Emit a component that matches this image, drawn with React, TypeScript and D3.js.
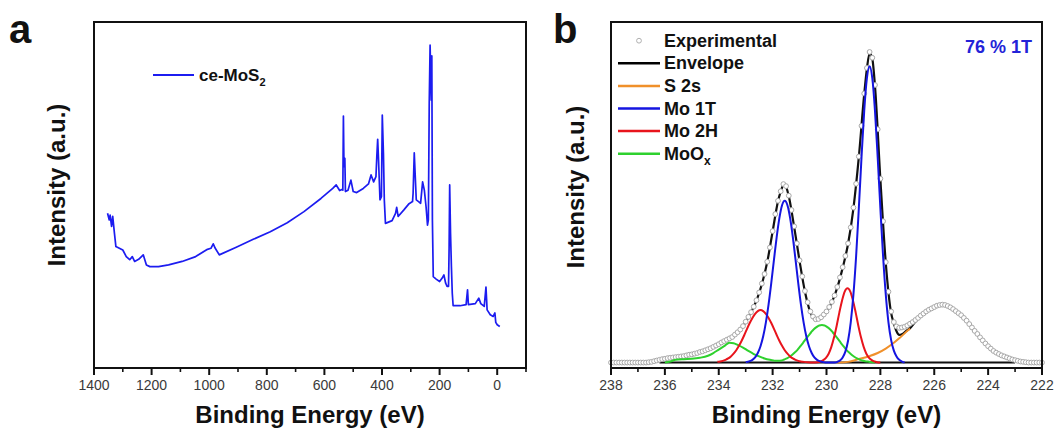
import React from "react";
import * as d3 from "d3";

const W = 1057;
const H = 430;
const FONT = "Arial, 'Liberation Sans', Helvetica, sans-serif";

// ---- panel a : survey spectrum ----
const surveyEnergy = [
  1353, 1347, 1344, 1339, 1335, 1329, 1324, 1312, 1300, 1288, 1276, 1267, 1259, 1245, 1229, 1218, 1206, 1176,
  1141, 1094, 1047, 1006, 994, 986, 979, 965, 906, 847, 788, 729, 671, 612, 571, 559, 547, 539, 536, 534, 532,
  529, 527, 518, 508, 500, 488, 465, 447, 438, 429, 421, 418, 415, 412, 407, 402, 399, 395, 392, 388, 365, 353,
  349, 344, 324, 306, 294, 292, 288, 285, 281, 273, 266, 259, 253, 247, 242, 239, 236, 233, 229, 227, 225, 222,
  212, 200, 191, 185, 179, 174, 169, 167, 165, 162, 159, 156, 153, 129, 108, 103, 100, 76, 64, 57, 45, 39, 35,
  24, 14, 8, 5, 0, -9,
];
const surveyIntensity = [
  44.7, 42.8, 44.2, 40.9, 43.8, 38.9, 35.1, 34.6, 34.1, 32.2, 31.3, 32.2, 30.8, 31.4, 32.7, 29.8, 29.3, 29.3,
  29.8, 30.8, 32.2, 34.3, 34.6, 35.9, 34.6, 32.7, 34.9, 37.2, 39.4, 42.0, 45.2, 49.0, 51.9, 52.9, 51.3, 51.6,
  51.4, 72.8, 58.2, 60.6, 51.0, 51.4, 54.3, 51.0, 50.7, 51.9, 53.2, 55.8, 53.8, 55.3, 61.1, 66.1, 60.1, 48.6,
  49.5, 73.1, 62.0, 48.6, 41.8, 42.6, 44.7, 46.4, 43.8, 45.7, 47.5, 48.1, 50.5, 62.2, 56.3, 48.6, 48.1, 47.6,
  53.8, 51.4, 46.6, 41.3, 42.8, 76.4, 93.3, 77.4, 90.2, 42.8, 26.4, 25.7, 25.0, 26.0, 26.9, 24.5, 23.6, 23.6,
  34.6, 52.9, 38.9, 29.3, 21.6, 18.0, 18.0, 18.3, 22.6, 18.3, 18.6, 20.2, 18.6, 17.8, 23.4, 16.8, 15.4, 14.9,
  15.9, 13.2, 12.5, 12.0,
];
const surveyMajor = [1400, 1200, 1000, 800, 600, 400, 200, 0];
const surveyMinor = [1300, 1100, 900, 700, 500, 300, 100, -100];

// ---- panel b : Mo 3d region ----
const experimental: [number, number][] = [
  [238.0, 0], [237.9, 0], [237.8, 0], [237.7, 0], [237.6, 0], [237.5, 0], [237.4, 0], [237.3, 0], [237.2, 0],
  [237.1, 0], [237.0, 0], [236.9, 0], [236.8, 0], [236.7, 0], [236.6, 0.1], [236.5, 0.2], [236.4, 0.4],
  [236.3, 0.6], [236.2, 0.8], [236.1, 1.0], [236.0, 1.1], [235.9, 1.3], [235.8, 1.4], [235.7, 1.5], [235.6, 1.6],
  [235.5, 1.7], [235.4, 1.8], [235.3, 1.9], [235.2, 2.1], [235.1, 2.3], [235.0, 2.4], [234.9, 2.6], [234.8, 2.8],
  [234.7, 3.1], [234.6, 3.3], [234.5, 3.6], [234.4, 3.9], [234.3, 4.2], [234.2, 4.6], [234.1, 5.0], [234.0, 5.4],
  [233.9, 5.9], [233.8, 6.3], [233.7, 6.7], [233.6, 7.1], [233.5, 7.5], [233.4, 8.2], [233.3, 8.9], [233.2, 9.7],
  [233.1, 10.7], [233.0, 12.0], [232.9, 13.4], [232.8, 14.8], [232.7, 16.4], [232.6, 18.3], [232.5, 20.6],
  [232.4, 23.2], [232.3, 26.0], [232.2, 29.6], [232.1, 33.8], [232.0, 38.6], [231.9, 43.6], [231.8, 47.5],
  [231.7, 50.3], [231.6, 52.4], [231.5, 51.8], [231.4, 49.0], [231.3, 44.8], [231.2, 40.0], [231.1, 35.0],
  [231.0, 30.0], [230.9, 25.3], [230.8, 21.0], [230.7, 17.7], [230.6, 15.0], [230.5, 13.5], [230.4, 12.7],
  [230.3, 12.8], [230.2, 13.3], [230.1, 14.1], [230.0, 15.0], [229.9, 16.3], [229.8, 17.8], [229.7, 19.7],
  [229.6, 22.2], [229.5, 25.0], [229.4, 28.0], [229.3, 31.3], [229.2, 35.0], [229.1, 39.7], [229.0, 45.5],
  [228.9, 52.5], [228.8, 60.5], [228.7, 69.5], [228.6, 79.0], [228.5, 86.5], [228.4, 91.2], [228.3, 89.5],
  [228.2, 81.5], [228.1, 68.5], [228.0, 54.0], [227.9, 41.5], [227.8, 29.5], [227.7, 20.8], [227.6, 15.0],
  [227.5, 11.9], [227.4, 10.6], [227.3, 10.2], [227.2, 10.3], [227.1, 10.5], [227.0, 10.9], [226.9, 11.4],
  [226.8, 11.9], [226.7, 12.5], [226.6, 13.1], [226.5, 13.8], [226.4, 14.4], [226.3, 15.0], [226.2, 15.5],
  [226.1, 15.9], [226.0, 16.3], [225.9, 16.7], [225.8, 16.9], [225.7, 17.0], [225.6, 16.9], [225.5, 16.6],
  [225.4, 16.2], [225.3, 15.7], [225.2, 15.1], [225.1, 14.5], [225.0, 13.9], [224.9, 13.1], [224.8, 12.3],
  [224.7, 11.3], [224.6, 10.3], [224.5, 9.3], [224.4, 8.4], [224.3, 7.4], [224.2, 6.5], [224.1, 5.6],
  [224.0, 4.8], [223.9, 4.1], [223.8, 3.4], [223.7, 2.9], [223.6, 2.5], [223.5, 2.1], [223.4, 1.8], [223.3, 1.5],
  [223.2, 1.2], [223.1, 0.9], [223.0, 0.7], [222.9, 0.5], [222.8, 0.3], [222.7, 0.2], [222.6, 0.1], [222.5, 0],
  [222.4, 0], [222.3, 0], [222.2, 0], [222.1, 0], [222.0, 0],
];

const background: [number, number][] = [[236.2, 0], [223.0, 0]];

const envelope: [number, number][] = [
  [236.0, 0.9], [235.5, 1.6], [235.0, 2.3], [234.5, 3.5], [234.0, 5.3], [233.6, 7.0], [233.2, 9.6], [232.9, 13.3],
  [232.6, 18.2], [232.4, 23.0], [232.2, 29.5], [232.0, 38.5], [231.8, 47.4], [231.7, 50.2], [231.6, 52.0],
  [231.5, 51.5], [231.4, 48.8], [231.2, 39.8], [231.0, 29.8], [230.8, 20.8], [230.6, 14.8], [230.4, 12.5],
  [230.2, 13.1], [230.0, 14.9], [229.8, 17.7], [229.6, 22.0], [229.4, 27.8], [229.2, 34.8], [229.0, 45.3],
  [228.8, 60.3], [228.6, 78.8], [228.5, 86.3], [228.4, 90.8], [228.3, 89.2], [228.2, 81.2], [228.0, 53.8],
  [227.8, 29.3], [227.6, 14.5], [227.5, 11.5], [227.4, 9.2], [227.3, 8.1], [227.2, 8.3], [227.05, 9.2],
  [226.9, 10.1], [226.7, 12.0], [226.5, 13.6], [226.2, 15.4], [225.9, 16.6], [225.7, 16.9], [225.4, 16.1],
  [225.1, 14.4], [224.8, 12.2], [224.5, 9.2], [224.2, 6.4], [223.9, 4.0], [223.6, 2.4], [223.3, 1.4],
  [223.0, 0.6], [222.8, 0.2],
];

const s2s: [number, number][] = [
  [229.6, 0], [229.2, 0.2], [228.8, 1.0], [228.4, 1.9], [228.1, 2.8], [227.8, 4.1], [227.5, 5.8], [227.3, 7.1],
  [227.15, 8.2], [227.0, 9.3], [226.9, 10.0],
];

const mo1T: [number, number][] = [
  [233.0, 0.1], [232.95, 0.2], [232.85, 0.4], [232.75, 0.8], [232.65, 1.5], [232.55, 2.8], [232.45, 4.8],
  [232.35, 7.7], [232.25, 11.8], [232.15, 17.1], [232.05, 23.4], [231.95, 30.2], [231.85, 36.8], [231.75, 42.4],
  [231.65, 46.2], [231.55, 47.5], [231.45, 46.2], [231.35, 42.4], [231.25, 36.8], [231.15, 30.2], [231.05, 23.4],
  [230.95, 17.1], [230.85, 11.8], [230.75, 7.7], [230.65, 4.8], [230.55, 2.8], [230.45, 1.5], [230.35, 0.8],
  [230.25, 0.4], [230.15, 0.2], [230.05, 0], [229.7, 0], [229.6, 0.2], [229.5, 0.6], [229.4, 1.5], [229.3, 3.2],
  [229.2, 6.4], [229.1, 11.8], [229.0, 20.0], [228.9, 31.3], [228.8, 45.3], [228.7, 60.3], [228.6, 73.9],
  [228.5, 83.5], [228.4, 87.0], [228.3, 83.5], [228.2, 73.9], [228.1, 60.3], [228.0, 45.3], [227.9, 31.3],
  [227.8, 20.0], [227.7, 11.8], [227.6, 6.6], [227.5, 3.5], [227.4, 1.8], [227.3, 0.8], [227.2, 0.3], [227.1, 0],
];

const mo2H: [number, number][] = [
  [234.05, 0.2], [233.95, 0.3], [233.85, 0.5], [233.75, 0.8], [233.65, 1.2], [233.55, 1.8], [233.45, 2.6],
  [233.35, 3.6], [233.25, 4.9], [233.15, 6.4], [233.05, 8.1], [232.95, 9.9], [232.85, 11.6], [232.75, 13.1],
  [232.65, 14.3], [232.55, 15.1], [232.45, 15.4], [232.35, 15.1], [232.25, 14.3], [232.15, 13.1], [232.05, 11.6],
  [231.95, 9.9], [231.85, 8.1], [231.75, 6.4], [231.65, 4.9], [231.55, 3.6], [231.45, 2.6], [231.35, 1.8],
  [231.25, 1.2], [231.15, 0.8], [231.05, 0.5], [230.95, 0.3], [230.85, 0.2], [230.7, 0.1], [230.5, 0.05],
  [230.32, 0.1], [230.22, 0.3], [230.12, 0.7], [230.02, 1.4], [229.92, 2.6], [229.82, 4.6], [229.72, 7.4],
  [229.62, 10.9], [229.52, 14.8], [229.42, 18.3], [229.32, 20.9], [229.22, 21.8], [229.12, 20.9], [229.02, 18.3],
  [228.92, 14.8], [228.82, 10.9], [228.72, 7.4], [228.62, 4.6], [228.52, 2.6], [228.42, 1.4], [228.32, 0.7],
  [228.22, 0.3], [228.12, 0.1], [228.0, 0],
];

const moOx: [number, number][] = [
  [236.0, 0], [235.8, 0.3], [235.6, 0.8], [235.3, 1.0], [235.0, 1.1], [234.7, 1.4], [234.4, 2.0], [234.2, 2.8],
  [234.0, 3.8], [233.8, 4.8], [233.6, 5.8], [233.45, 5.7], [233.3, 5.2], [233.1, 4.4], [232.9, 3.4], [232.7, 2.5],
  [232.5, 1.8], [232.3, 1.2], [232.1, 0.8], [231.97, 0.6], [231.87, 0.5], [231.77, 0.5], [231.67, 0.6],
  [231.57, 0.9], [231.47, 1.2], [231.37, 1.7], [231.27, 2.3], [231.17, 3.0], [231.07, 3.8], [230.97, 4.8],
  [230.87, 5.8], [230.77, 6.9], [230.67, 7.9], [230.57, 8.9], [230.47, 9.8], [230.37, 10.4], [230.27, 10.9],
  [230.17, 11.0], [230.07, 10.9], [229.97, 10.4], [229.87, 9.8], [229.77, 8.9], [229.67, 7.9], [229.57, 6.9],
  [229.47, 5.8], [229.37, 4.8], [229.27, 3.8], [229.17, 3.0], [229.07, 2.3], [228.97, 1.7], [228.87, 1.2],
  [228.77, 0.9], [228.67, 0.6], [228.57, 0.4], [228.47, 0.3], [228.37, 0.15], [228.2, 0],
];

const coreMajor = [238, 236, 234, 232, 230, 228, 226, 224, 222];
const coreMinor = [237, 235, 233, 231, 229, 227, 225, 223];

const legendLabels = ["Experimental", "Envelope", "S 2s", "Mo 1T", "Mo 2H", "MoO"];
const legendColors = ["none", "#000000", "#f0902a", "#1515e0", "#e8141c", "#2ed12e"];

type Scale = d3.ScaleLinear<number, number>;

function BottomAxis({ x, y, major, minor }: { x: Scale; y: number; major: number[]; minor: number[] }) {
  return (
    <g>
      {minor.map((t) => (
        <line key={"m" + t} x1={x(t)} x2={x(t)} y1={y} y2={y + 4} stroke="#111" strokeWidth={1.6} />
      ))}
      {major.map((t) => (
        <g key={t}>
          <line x1={x(t)} x2={x(t)} y1={y} y2={y + 7} stroke="#111" strokeWidth={2} />
          <text x={x(t)} y={y + 22} textAnchor="middle" fontSize={14} fill="#3a3a3a" fontFamily={FONT}>
            {t}
          </text>
        </g>
      ))}
    </g>
  );
}

export default function App() {
  const xa = d3.scaleLinear().domain([1400, -100]).range([94, 526]);
  const ya = d3.scaleLinear().domain([0, 100]).range([368, 22]);
  const xb = d3.scaleLinear().domain([238, 222]).range([611, 1042]);
  const yb = d3.scaleLinear().domain([-1.6, 100]).range([368, 22]);

  const surveyLine = d3
    .line<number>()
    .x((d) => xa(d))
    .y((_, i) => ya(surveyIntensity[i]));

  const fitLine = d3
    .line<[number, number]>()
    .x((d) => xb(d[0]))
    .y((d) => yb(d[1]))
    .curve(d3.curveMonotoneX);

  const [a0, a1] = xa.range();
  const [b0, b1] = xb.range();
  const [yBottom, yTop] = ya.range();

  return (
    <svg
      width={W}
      height={H}
      style={{ position: "absolute", left: 0, top: 0, background: "#fff" }}
      fontFamily={FONT}
    >
      <rect width={W} height={H} fill="#fff" />

      {/* panel a */}
      <text x={9} y={43} fontSize={40} fontWeight="bold" fill="#111">a</text>
      <path d={surveyLine(surveyEnergy) || ""} fill="none" stroke="#1c1cf0" strokeWidth={1.7} strokeLinejoin="round" />
      <rect x={a0} y={yTop} width={a1 - a0} height={yBottom - yTop} fill="none" stroke="#111" strokeWidth={2} />
      <BottomAxis x={xa} y={yBottom} major={surveyMajor} minor={surveyMinor} />
      <line x1={153} x2={194} y1={75} y2={75} stroke="#1c1cf0" strokeWidth={2} />
      <text x={199} y={81} fontSize={17} fontWeight="bold" fill="#111">
        ce-MoS<tspan fontSize={11} dy={5}>2</tspan>
      </text>
      <text x={(a0 + a1) / 2} y={423} textAnchor="middle" fontSize={24} fontWeight="bold" fill="#111">
        Binding Energy (eV)
      </text>
      <text
        transform={`translate(65,185) rotate(-90)`}
        textAnchor="middle"
        fontSize={24}
        fontWeight="bold"
        fill="#111"
      >
        Intensity (a.u.)
      </text>

      {/* panel b */}
      <text x={553} y={43} fontSize={40} fontWeight="bold" fill="#111">b</text>
      <path d={fitLine(background) || ""} fill="none" stroke="#111" strokeWidth={2} />
      <path d={fitLine(envelope) || ""} fill="none" stroke="#111" strokeWidth={2.2} />
      {experimental.map((d, i) => (
        <circle key={i} cx={xb(d[0])} cy={yb(d[1])} r={2.4} fill="#fff" stroke="#a8a8a8" strokeWidth={1} />
      ))}
      <path d={fitLine(s2s) || ""} fill="none" stroke={legendColors[2]} strokeWidth={2} />
      <path d={fitLine(moOx) || ""} fill="none" stroke={legendColors[5]} strokeWidth={2} />
      <path d={fitLine(mo2H) || ""} fill="none" stroke={legendColors[4]} strokeWidth={2} />
      <path d={fitLine(mo1T) || ""} fill="none" stroke={legendColors[3]} strokeWidth={2} />
      <rect x={b0} y={yTop} width={b1 - b0} height={yBottom - yTop} fill="none" stroke="#111" strokeWidth={2} />
      <BottomAxis x={xb} y={yBottom} major={coreMajor} minor={coreMinor} />

      {legendLabels.map((label, i) => {
        const base = 46.7 + i * 22.6;
        return (
          <g key={label}>
            {i === 0 ? (
              <circle cx={639} cy={base - 6} r={2.4} fill="#fff" stroke="#b0b0b0" strokeWidth={1} />
            ) : (
              <line x1={618} x2={660} y1={base - 6} y2={base - 6} stroke={legendColors[i]} strokeWidth={2.5} />
            )}
            <text x={664} y={base} fontSize={18} fontWeight="bold" fill="#111">
              {label}
              {i === 5 && (
                <tspan fontSize={12} dy={5}>
                  x
                </tspan>
              )}
            </text>
          </g>
        );
      })}
      <text x={1032} y={53} textAnchor="end" fontSize={18} fontWeight="bold" fill="#2323d8">
        76 % 1T
      </text>

      <text x={(b0 + b1) / 2} y={423} textAnchor="middle" fontSize={24} fontWeight="bold" fill="#111">
        Binding Energy (eV)
      </text>
      <text
        transform={`translate(584,187) rotate(-90)`}
        textAnchor="middle"
        fontSize={24}
        fontWeight="bold"
        fill="#111"
      >
        Intensity (a.u.)
      </text>
    </svg>
  );
}
